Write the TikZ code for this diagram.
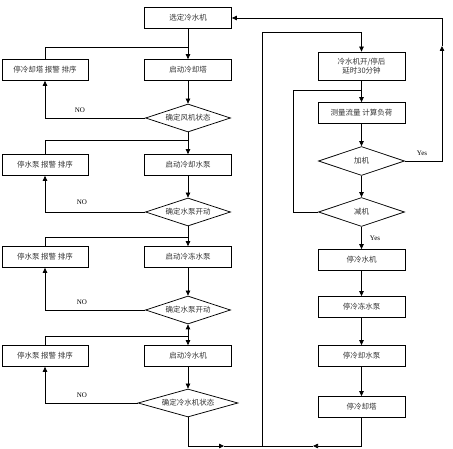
\documentclass[tikz,border=0pt]{standalone}
\usepackage{fontspec}
\newfontfamily\cjk{Noto Sans CJK SC}
\newfontfamily\lat{Liberation Serif}
\usetikzlibrary{shapes.geometric,arrows.meta,shadows}
\begin{document}
\begin{tikzpicture}[x=1pt,y=-1pt,
  line width=0.75pt,
  every node/.style={font=\cjk\fontsize{7.5}{9}\selectfont, text=black!80},
  boxnode/.style={draw, fill=white, rectangle, minimum width=87pt, minimum height=21pt, inner sep=1pt, align=center,
    drop shadow={shadow xshift=0.8pt, shadow yshift=-0.8pt, opacity=1, fill=black}},
  decnode/.style={draw, fill=white, diamond, minimum width=85pt, minimum height=28pt, inner sep=0pt},
  arr/.style={-{Triangle[length=5pt,width=4.5pt]}},
  lbl/.style={font=\lat\fontsize{7}{8}\selectfont, text=black}
]
\useasboundingbox (0,0) rectangle (453,449);
% left column
\node[boxnode] (n1) at (188,18) {选定冷水机};
\node[boxnode] (c1) at (188,70) {启动冷却塔};
\node[boxnode, minimum width=86pt] (s1) at (45,70) {停冷却塔 报警 排序};
\node[decnode] (d1) at (188,118) {};
\node at (d1) {确定风机状态};
\node[boxnode] (c2) at (188,165) {启动冷却水泵};
\node[boxnode, minimum width=86pt] (s2) at (45,165) {停水泵 报警 排序};
\node[decnode] (d2) at (188,212) {};
\node at (d2) {确定水泵开动};
\node[boxnode] (c3) at (188,257) {启动冷冻水泵};
\node[boxnode, minimum width=86pt] (s3) at (45,257) {停水泵 报警 排序};
\node[decnode] (d3) at (188,310) {};
\node at (d3) {确定水泵开动};
\node[boxnode] (c4) at (188,356) {启动冷水机};
\node[boxnode, minimum width=86pt] (s4) at (45,356) {停水泵 报警 排序};
\node[decnode, minimum width=100pt] (d4) at (188,403) {};
\node at (d4) {确定冷水机状态};
% right column
\node[boxnode, minimum height=28pt, inner sep=0pt] (r1) at (361.5,66) {冷水机开/停后\\延时30分钟};
\node[boxnode] (r2) at (361.5,113) {测量流量 计算负荷};
\node[decnode, minimum width=86pt, minimum height=29pt] (rd1) at (361.5,161) {};
\node at (rd1) {加机};
\node[decnode, minimum width=86pt, minimum height=29pt] (rd2) at (361.5,212) {};
\node at (rd2) {减机};
\node[boxnode] (r3) at (361.5,260) {停冷水机};
\node[boxnode] (r4) at (361.5,307) {停冷冻水泵};
\node[boxnode] (r5) at (361.5,356) {停冷却水泵};
\node[boxnode] (r6) at (361.5,407) {停冷却塔};
% coordinates
\coordinate (j1) at (188,47);
\coordinate (j2) at (188,140);
\coordinate (j3) at (188,237);
\coordinate (j4) at (188,336);
\coordinate (bm) at (262,446);
\coordinate (bma) at (224,446);
\coordinate (bmb) at (313,446);
\coordinate (tl) at (262,32);
\coordinate (tr) at (361.5,32);
\coordinate (rj) at (361.5,90);
\coordinate (rl) at (293,90);
\coordinate (rlb) at (293,212);
\coordinate (ytop) at (442,18);
\coordinate (yup) at (442,46);
\coordinate (ybot) at (442,161);
% left connectors
\draw[arr] (n1) -- (c1);
\draw (j1) -| (s1);
\draw[arr] (c1) -- (d1);
\draw[arr] (d1.west) -| (s1.south);
\draw[arr] (d1) -- (c2);
\draw (j2) -| (s2);
\draw[arr] (c2) -- (d2);
\draw[arr] (d2.west) -| (s2.south);
\draw[arr] (d2) -- (c3);
\draw (j3) -| (s3);
\draw[arr] (c3) -- (d3);
\draw[arr] (d3.west) -| (s3.south);
\draw[{Triangle[length=5pt,width=4.5pt]}-{Triangle[length=5pt,width=4.5pt]}] (d3) -- (c4);
\draw (j4) -| (s4);
\draw[arr] (c4) -- (d4);
\draw[arr] (d4.west) -| (s4.south);
\node[lbl] at (80,110) {NO};
\node[lbl] at (82,202) {NO};
\node[lbl] at (82,302) {NO};
\node[lbl] at (82,395) {NO};
% bottom loop
\draw[arr] (d4.south) |- (bma);
\draw (bma) -- (bm);
\draw[arr] (r6.south) |- (bmb);
\draw (bmb) -- (bm);
\draw[arr] (bm) -- (tl) -- (tr) -- (r1.north);
% right connectors
\draw[arr] (r1) -- (r2);
\draw[arr] (r2) -- (rd1);
\draw[arr] (rd1.east) -- (ybot) -- (yup);
\draw[arr] (yup) -- (ytop) -- (n1.east);
\node[lbl] at (422,153) {Yes};
\draw[arr] (rd1) -- (rd2);
\draw (rd2.west) -- (rlb) -- (rl) -- (rj);
\draw[arr] (rd2) -- (r3);
\node[lbl] at (375,238) {Yes};
\draw[arr] (r3) -- (r4);
\draw[arr] (r4) -- (r5);
\draw[arr] (r5) -- (r6);
\end{tikzpicture}
\end{document}
